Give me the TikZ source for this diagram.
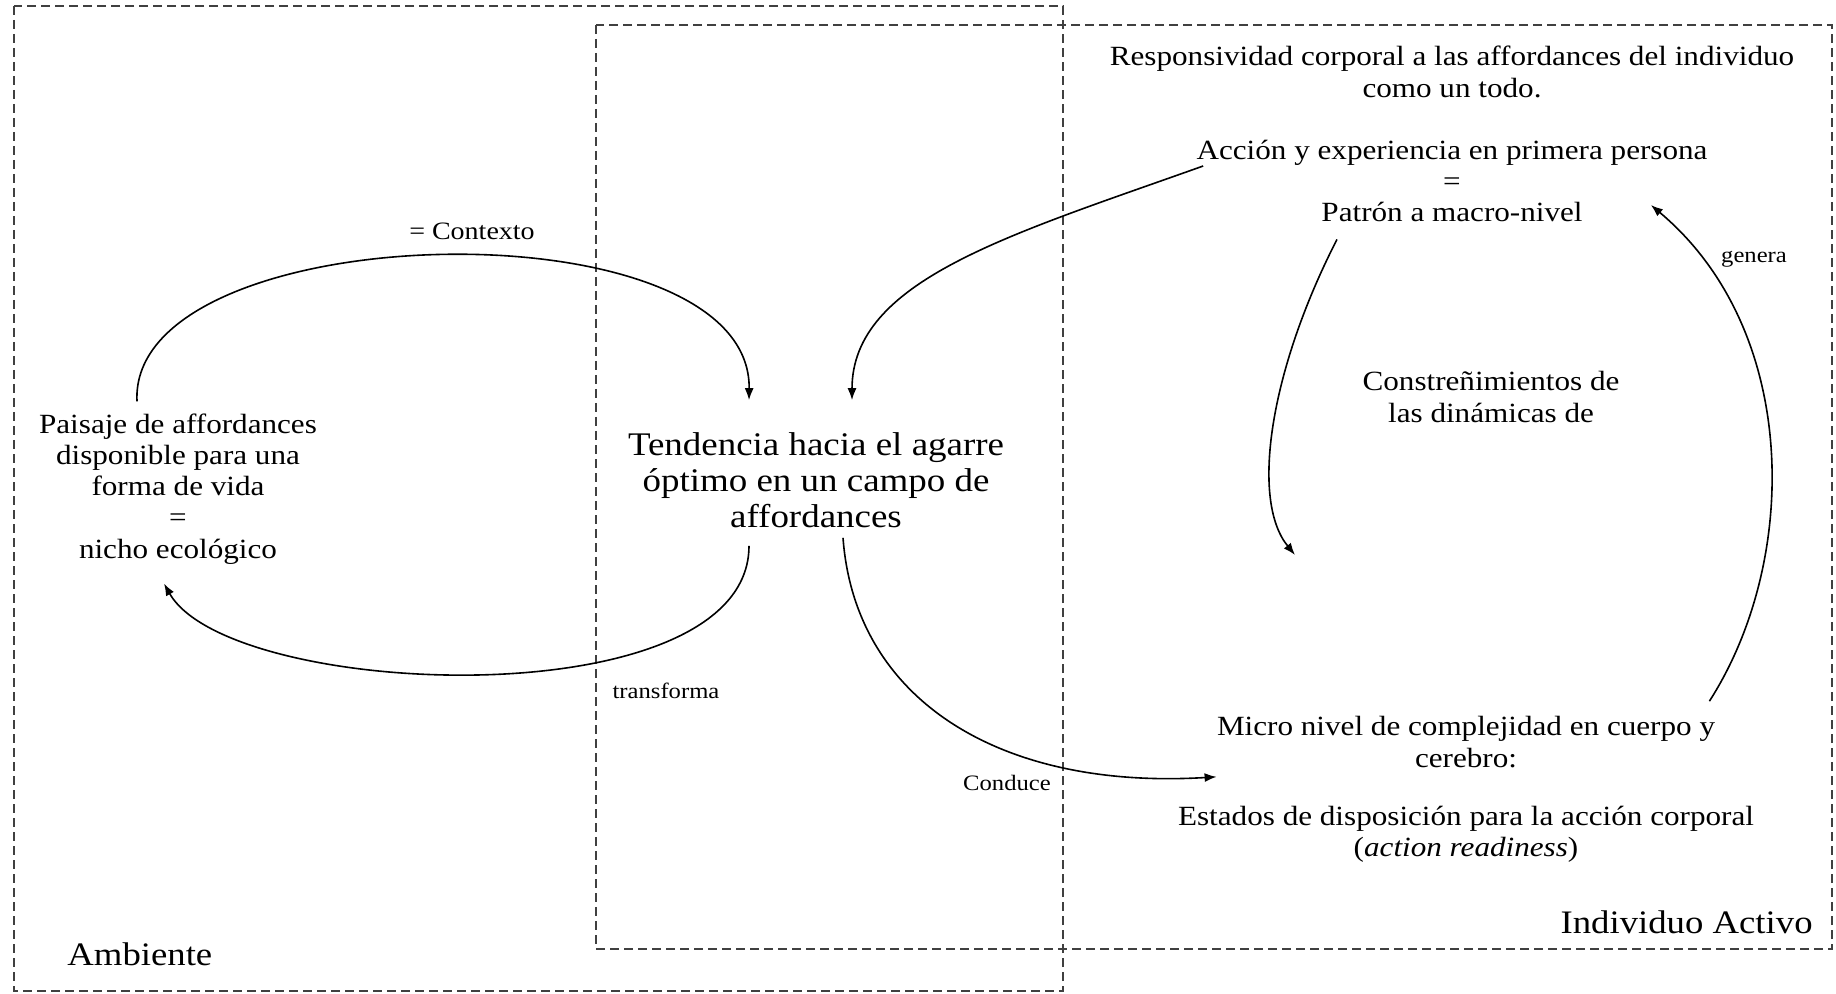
\documentclass[tikz,border=0pt]{standalone}
\usepackage{fontspec}
\setmainfont{Liberation Serif}[FakeStretch=1.12]
\usetikzlibrary{arrows.meta,calc}

\tikzset{
  frame/.style={draw=black!75, line width=0.7pt, dash pattern=on 4.5pt off 2.5pt},
  txt/.style={align=center, inner sep=2pt, font=\fontsize{13.9}{15.6}\selectfont},
  big/.style={align=center, inner sep=2pt, font=\fontsize{16.5}{17.9}\selectfont},
  lbl/.style={inner sep=1pt, font=\fontsize{11}{13}\selectfont},
  title/.style={inner sep=0pt, font=\fontsize{16.4}{19}\selectfont},
  link/.style={-{Latex[length=6pt,width=4.5pt]}, line width=0.8pt},
}

\begin{document}
\begin{tikzpicture}[x=0.5pt,y=-0.5pt]
  \useasboundingbox (0,0) rectangle (1836,994);
  \draw[frame] (14,6) rectangle (1063,991);
  \draw[frame] (596,25) rectangle (1832,949);

  \node[txt] (paisaje) at (178,489) {Paisaje de affordances\\disponible para una\\forma de vida\\=\\nicho ecológico};
  \node[big] (tendencia) at (816,480) {Tendencia hacia el agarre\\óptimo en un campo de\\affordances};
  \node[txt] (respons) at (1452,72) {Responsividad corporal a las affordances del individuo\\como un todo.};
  \node[txt] (accion) at (1452,181) {Acción y experiencia en primera persona\\=\\Patrón a macro-nivel};
  \node[txt] (constr) at (1491,397) {Constreñimientos de\\las dinámicas de};
  \node[txt] (micro) at (1466,742) {Micro nivel de complejidad en cuerpo y\\cerebro:};
  \node[txt] (estados) at (1466,834) {Estados de disposición para la acción corporal\\(\textit{action readiness})};

  \node[title, anchor=east] (individuo) at (1813,922) {Individuo Activo};
  \node[title, anchor=west] (ambiente) at (67,954) {Ambiente};

  \node[lbl, font=\fontsize{12.5}{14}\selectfont] (contexto) at (472,231) {= Contexto};
  \node[lbl] (transforma) at (666,691) {transforma};
  \node[lbl] (conduce) at (1007,783) {Conduce};
  \node[lbl] (genera) at (1754,259) {genera};

  \coordinate (dinEnd) at (1295,555);

  \draw[link] ($(paisaje.north)+(-41,-8)$) .. controls (128,215) and (752,200) .. ($(tendencia.north)+(-67,-28)$);
  \draw[link] ($(tendencia.south)+(-67,14)$) .. controls (749,720) and (230,700) .. ($(paisaje.south)+(-14,15)$);
  \draw[link] ($(accion.west)+(11,-15)$) .. controls (1010,235) and (852,280) .. ($(tendencia.north)+(36,-28)$);
  \draw[link] ($(tendencia.south)+(27,6)$) .. controls (855,700) and (1000,790) .. ($(micro.south west)+(4,5)$);
  \draw[link] ($(accion.south)+(-115,13)$) .. controls (1270,370) and (1250,500) .. (dinEnd);
  \draw[link] ($(micro.north east)+(-10,-11)$) .. controls (1800,560) and (1800,330) .. ($(accion.east)+(-61,24)$);
\end{tikzpicture}
\end{document}
